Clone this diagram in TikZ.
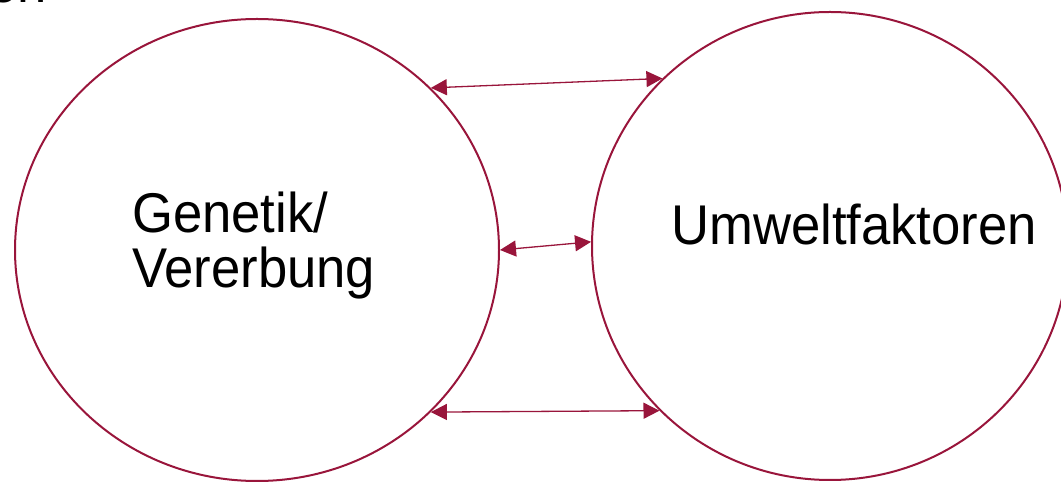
\documentclass[tikz,border=0pt]{standalone}
\usepackage{fontspec}
\setmainfont{Liberation Sans}[FakeStretch=0.94]
\usetikzlibrary{arrows.meta,shapes.geometric}
\definecolor{wine}{RGB}{153,21,59}
\begin{document}
\begin{tikzpicture}[x=1pt,y=1pt,
  bubble/.style={draw=wine,line width=2pt,ellipse,inner sep=0pt},
  biarrow/.style={draw=wine,line width=1.3pt,{Triangle[length=16pt,width=16pt]}-{Triangle[length=16pt,width=16pt]}},
  bigtext/.style={font=\fontsize{56}{55}\selectfont,inner sep=0pt,text=black}]
\useasboundingbox (0,0) rectangle (1061,482);
\node[bigtext,anchor=base east] (cut) at (47,479) {en};
\node[bubble,minimum width=484pt,minimum height=462pt] (L) at (257,232) {};
\node[bubble,minimum width=476pt,minimum height=468pt] (R) at (830,236) {};
\node[bigtext,anchor=base west,align=left] (gen) at (132,194) {Genetik/\\Vererbung};
\node[bigtext,anchor=base west] (umw) at (671,237) {Umweltfaktoren};
\coordinate (lt) at (L.43.4);
\coordinate (rt) at (R.135.4);
\coordinate (lm) at (L.-0.5);
\coordinate (rm) at (R.179.6);
\coordinate (lb) at (L.-43.9);
\coordinate (rb) at (R.224.1);
\draw[biarrow] (lt) -- (rt);
\draw[biarrow] (lm) -- (rm);
\draw[biarrow] (lb) -- (rb);
\end{tikzpicture}
\end{document}
